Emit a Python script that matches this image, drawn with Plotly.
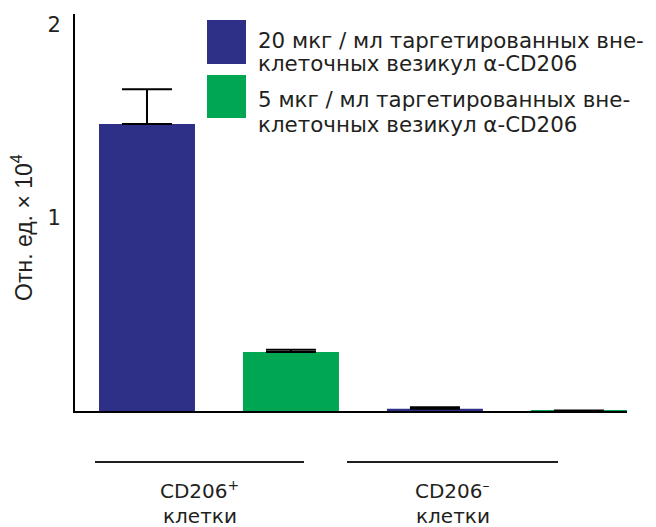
import plotly.graph_objects as go

# ---- data ----
groups = ["CD206+", "CD206-"]
group_labels = ["CD206<sup>+</sup>", "CD206<sup>–</sup>"]
group_sub = ["клетки", "клетки"]
legend_lines = [
    "20 мкг / мл таргетированных вне-",
    "клеточных везикул α-CD206",
    "5 мкг / мл таргетированных вне-",
    "клеточных везикул α-CD206",
]
series_names = ["20 мкг/мл α-CD206", "5 мкг/мл α-CD206"]
dose20_values = [1.487, 0.012]
dose20_errors = [0.18, 0.008]
dose5_values = [0.306, 0.0005]
dose5_errors = [0.012, 0.002]
y_ticks = [1, 2]
y_title = "Отн. ед. × 10<sup>4</sup>"

BLUE = "#2E3088"
GREEN = "#00A651"
INK = "#231F20"

fig = go.Figure()
for name, vals, errs, col in [
    (series_names[0], dose20_values, dose20_errors, BLUE),
    (series_names[1], dose5_values, dose5_errors, GREEN),
]:
    fig.add_trace(go.Bar(
        x=[0, 1], y=vals, name=name, marker=dict(color=col, line=dict(width=0)),
        error_y=dict(type="data", array=errs, arrayminus=[0] * len(errs), symmetric=False,
                     color="black", thickness=2, width=25),
        showlegend=False,
    ))

# page body has an 8px margin: figure drawn at (8, 8)
OFF = 8
W, H = 656 - OFF, 527 - OFF
# plot area in reference pixels: x 75..627, y 14..411
L, R, T, B = 75, 627, 14, 411

def px(x):
    return (x - L) / (R - L)

def py(y):
    return (B - y) / (B - T)

FONT = "DejaVu Sans"

# manual legend
legend_swatches = [(207, 20, 246, 64, BLUE), (207, 75, 246, 118, GREEN)]
line_y = [40, 64, 99, 124]
shapes = []
for x0, y0, x1, y1, c in legend_swatches:
    shapes.append(dict(type="rect", xref="paper", yref="paper", x0=px(x0), x1=px(x1),
                       y0=py(y1), y1=py(y0), fillcolor=c, line=dict(width=0)))
annotations = []
for txt, yy in zip(legend_lines, line_y):
    annotations.append(dict(text=txt, xref="paper", yref="paper", x=px(256), y=py(yy),
                            xanchor="left", yanchor="middle", showarrow=False,
                            font=dict(family=FONT, size=21.4, color=INK)))

# group labels with lines
group_line_px = [(95, 304), (347, 558)]
for (a, b), lab, sub in zip(group_line_px, group_labels, group_sub):
    shapes.append(dict(type="line", xref="paper", yref="paper", x0=px(a), x1=px(b),
                       y0=py(462), y1=py(462), line=dict(color=INK, width=2)))
    annotations.append(dict(text=lab, xref="paper", yref="paper", x=px((a + b) / 2), y=py(490),
                            xanchor="center", yanchor="middle", showarrow=False,
                            font=dict(family=FONT, size=20, color=INK)))
    annotations.append(dict(text=sub, xref="paper", yref="paper", x=px((a + b) / 2), y=py(516),
                            xanchor="center", yanchor="middle", showarrow=False,
                            font=dict(family=FONT, size=20, color=INK)))

# y-axis title
annotations.append(dict(text=y_title, xref="paper", yref="paper", x=px(22), y=py(228),
                        xanchor="center", yanchor="middle", textangle=-90, showarrow=False,
                        font=dict(family="Liberation Sans", size=23, color=INK)))

fig.update_layout(
    width=W, height=H,
    margin=dict(l=L - OFF, r=656 - R, t=T - OFF, b=527 - B, pad=0, autoexpand=False),
    plot_bgcolor="white", paper_bgcolor="white",
    barmode="group", bargap=0, bargroupgap=1 / 3,
    shapes=shapes, annotations=annotations,
    xaxis=dict(range=[-0.5, 1.417], showticklabels=False, ticks="", showgrid=False,
               zeroline=False, showline=True, linecolor="black", linewidth=2, automargin=False),
    yaxis=dict(range=[0, 2.057], tickvals=y_ticks, ticks="", showgrid=False, zeroline=False,
               showline=True, linecolor="black", linewidth=2, ticklabelstandoff=8,
               automargin=False,
               tickfont=dict(family=FONT, size=21, color=INK)),
    font=dict(family=FONT),
)

fig.write_html("out.html")
